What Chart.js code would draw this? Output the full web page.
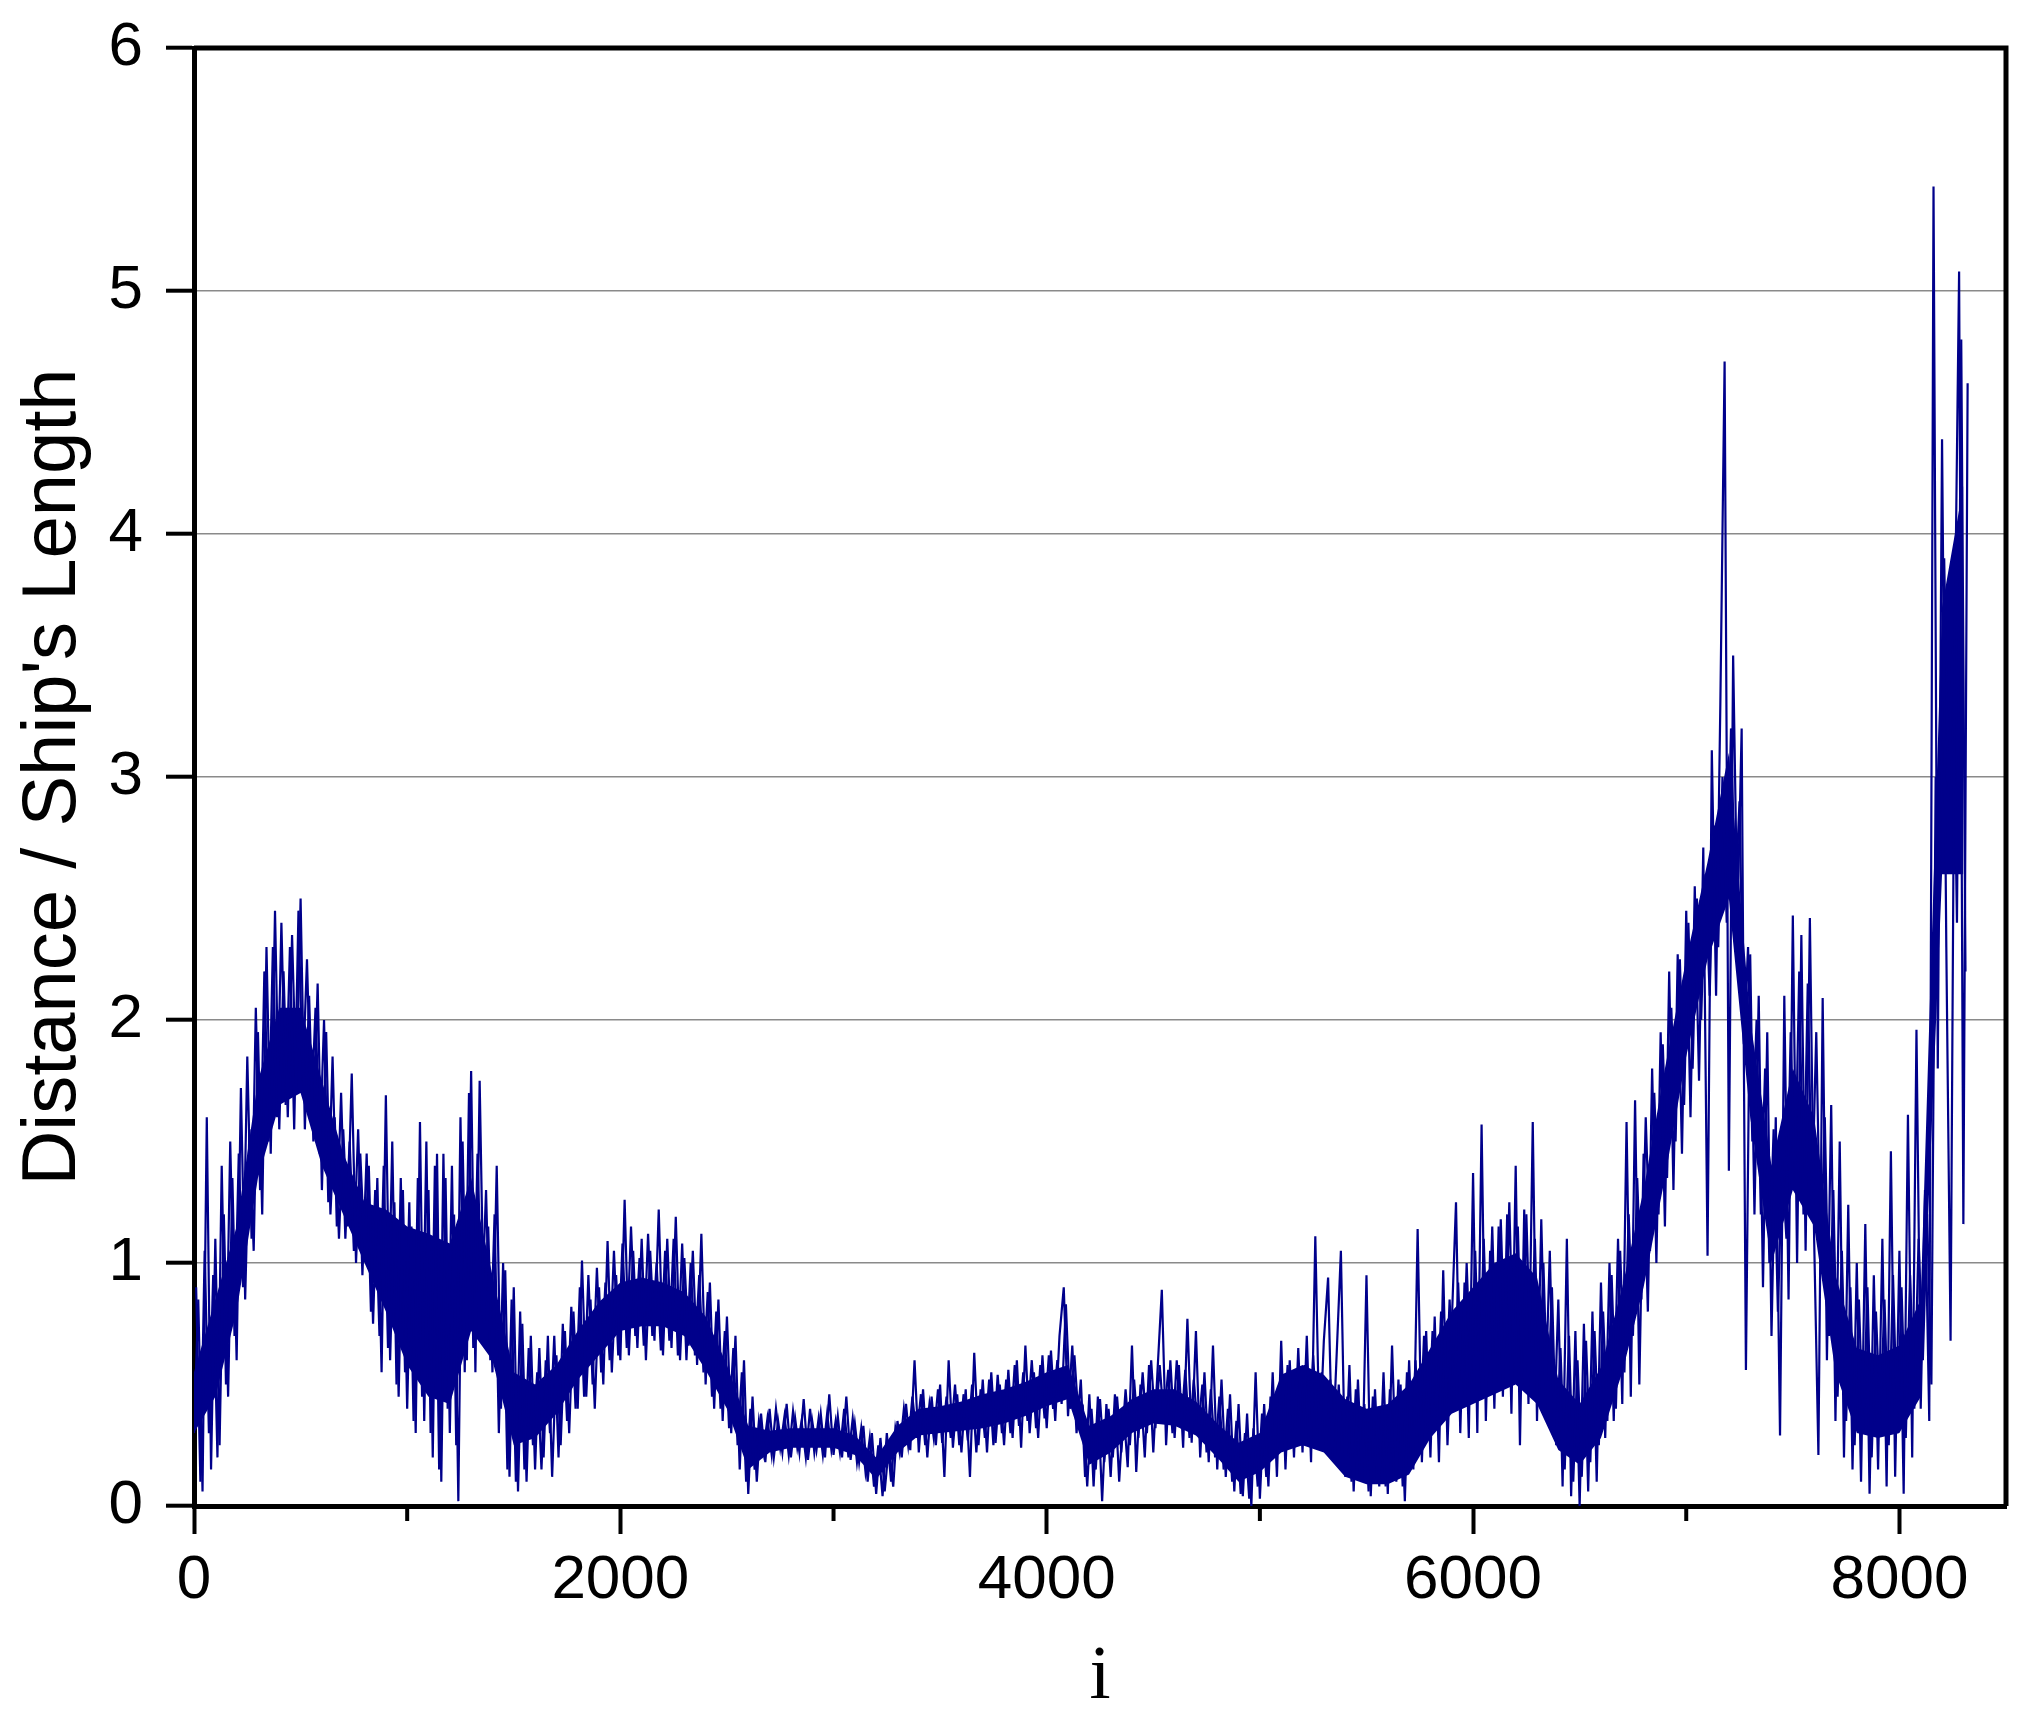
<!DOCTYPE html>
<html>
<head>
<meta charset="utf-8">
<script src="https://cdn.jsdelivr.net/npm/chart.js@4.4.1/dist/chart.umd.min.js"></script>
<style>
  html, body { margin: 0; padding: 0; background: #fff; }
</style>
</head>
<body>
<canvas id="myChart" width="2024" height="1727"></canvas>
<script>
// samples at i = 0, 20, 40, ...
var sampleStep = 20;
var distance = [
  0.30, 0.85, 0.06, 1.60, 0.15, 1.10, 0.25, 1.20, 0.45, 1.35,
  0.60, 1.72, 0.85, 1.55, 1.05, 1.95, 1.20, 2.30, 1.45, 2.45,
  1.55, 2.20, 1.60, 2.35, 1.70, 2.50, 1.55, 2.10, 1.50, 2.15,
  1.30, 1.95, 1.20, 1.60, 1.10, 1.55, 1.15, 1.78, 1.00, 1.45,
  1.05, 1.40, 0.75, 1.35, 0.55, 1.69, 0.60, 1.25, 0.45, 1.30,
  0.40, 1.15, 0.30, 1.58, 0.35, 1.30, 0.20, 1.45, 0.10, 1.35,
  0.30, 1.20, 0.02, 1.50, 0.60, 1.79, 0.55, 1.75, 0.75, 1.15,
  0.55, 1.40, 0.40, 0.97, 0.12, 0.90, 0.06, 0.75, 0.10, 0.70,
  0.15, 0.65, 0.20, 0.70, 0.12, 0.62, 0.25, 0.72, 0.30, 0.80,
  0.40, 1.01, 0.45, 0.85, 0.40, 0.90, 0.50, 1.09, 0.55, 0.95,
  0.60, 1.26, 0.62, 1.05, 0.65, 1.10, 0.60, 1.05, 0.68, 1.22,
  0.62, 1.10, 0.65, 1.19, 0.60, 1.02, 0.66, 1.05, 0.58, 1.12,
  0.50, 0.92, 0.40, 0.85, 0.35, 0.78, 0.30, 0.70, 0.15, 0.60,
  0.05, 0.45, 0.10, 0.38, 0.18, 0.40, 0.20, 0.35, 0.22, 0.42,
  0.20, 0.36, 0.22, 0.44, 0.19, 0.35, 0.23, 0.38, 0.20, 0.46,
  0.21, 0.37, 0.20, 0.45, 0.19, 0.34, 0.18, 0.33, 0.10, 0.30,
  0.05, 0.28, 0.06, 0.25, 0.08, 0.35, 0.20, 0.42, 0.23, 0.60,
  0.22, 0.48, 0.20, 0.45, 0.25, 0.50, 0.12, 0.60, 0.24, 0.46,
  0.22, 0.48, 0.12, 0.63, 0.25, 0.52, 0.22, 0.55, 0.26, 0.50,
  0.25, 0.56, 0.28, 0.60, 0.24, 0.66, 0.30, 0.55, 0.28, 0.62,
  0.32, 0.64, 0.35, 0.70, 0.90, 0.37, 0.66, 0.30, 0.52, 0.12,
  0.46, 0.08, 0.45, 0.02, 0.42, 0.12, 0.46, 0.10, 0.40, 0.16,
  0.66, 0.14, 0.50, 0.20, 0.58, 0.22, 0.56, 0.89, 0.25, 0.60,
  0.28, 0.58, 0.24, 0.77, 0.26, 0.72, 0.20, 0.55, 0.18, 0.66,
  0.15, 0.52, 0.12, 0.46, 0.06, 0.42, 0.04, 0.38, 0.00, 0.55,
  0.03, 0.42, 0.08, 0.55, 0.12, 0.68, 0.15, 0.60, 0.20, 0.65,
  0.22, 0.70, 0.18, 1.11, 0.25, 0.68, 0.94, 0.20, 0.62, 1.05,
  0.12, 0.58, 0.06, 0.52, 0.10, 0.95, 0.04, 0.48, 0.08, 0.55,
  0.05, 0.66, 0.10, 0.50, 0.02, 0.60, 0.15, 1.14, 0.18, 0.72,
  0.20, 0.78, 0.18, 0.97, 0.25, 0.75, 1.25, 0.30, 0.92, 0.28,
  1.37, 0.30, 1.57, 0.35, 1.05, 0.40, 1.15, 0.45, 1.20, 0.38,
  1.40, 0.25, 1.22, 0.42, 1.58, 0.35, 1.18, 0.45, 1.05, 0.30,
  0.85, 0.08, 1.10, 0.04, 0.72, 0.00, 0.75, 0.06, 0.80, 0.10,
  0.92, 0.28, 1.00, 0.35, 1.10, 0.42, 1.58, 0.45, 1.67, 0.50,
  1.45, 0.80, 1.80, 1.00, 1.95, 1.15, 2.20, 1.30, 2.27, 1.45,
  2.45, 1.60, 2.55, 1.75, 2.71, 1.03, 3.11, 2.10, 3.30, 4.71,
  1.38, 3.50, 2.40, 3.20, 0.56, 2.27, 1.20, 2.10, 0.90, 1.95,
  0.70, 1.60, 0.29, 2.10, 0.85, 2.43, 1.00, 2.35, 1.05, 2.42,
  1.10, 0.21, 2.09, 0.60, 1.65, 0.35, 1.50, 0.20, 1.24, 0.15,
  1.00, 0.10, 1.16, 0.05, 0.95, 0.15, 1.10, 0.08, 1.46, 0.12,
  1.05, 0.05, 1.61, 0.20, 1.96, 0.40, 1.30, 0.35, 5.43, 1.80,
  4.39, 2.30, 0.68, 3.60, 5.08, 1.16, 4.62
];

// samples at i = 10, 30, 50, ... (the in-between noise)
var distanceMid = [
  0.90, 0.10, 1.05, 0.30, 0.95, 0.20, 1.40, 0.50, 1.50, 0.70,
  1.45, 0.90, 1.85, 1.10, 2.05, 1.30, 2.20, 1.50, 2.30, 1.60,
  2.40, 1.65, 2.30, 1.55, 2.45, 1.75, 2.25, 1.60, 2.05, 1.45,
  2.00, 1.25, 1.85, 1.15, 1.70, 1.10, 1.50, 1.05, 1.55, 0.95,
  1.45, 0.80, 1.30, 0.70, 1.40, 0.65, 1.50, 0.50, 1.35, 0.55,
  1.25, 0.35, 1.35, 0.45, 1.50, 0.30, 1.40, 0.15, 1.45, 0.40,
  1.40, 0.25, 1.60, 0.55, 1.70, 0.65, 1.45, 0.80, 1.30, 0.60,
  1.20, 0.30, 1.00, 0.15, 0.85, 0.10, 0.80, 0.15, 0.65, 0.25,
  0.55, 0.15, 0.60, 0.30, 0.70, 0.20, 0.75, 0.35, 0.82, 0.40,
  0.90, 0.45, 0.95, 0.50, 0.98, 0.55, 0.92, 0.60, 1.05, 0.62,
  1.08, 0.65, 1.15, 0.70, 1.02, 0.66, 1.12, 0.70, 1.00, 0.64,
  1.05, 0.68, 1.10, 0.62, 1.08, 0.60, 1.00, 0.62, 0.95, 0.55,
  0.88, 0.45, 0.80, 0.40, 0.72, 0.32, 0.65, 0.25, 0.55, 0.10,
  0.40, 0.15, 0.35, 0.22, 0.36, 0.21, 0.40, 0.24, 0.37, 0.21,
  0.39, 0.24, 0.35, 0.20, 0.40, 0.22, 0.36, 0.21, 0.38, 0.23,
  0.35, 0.22, 0.40, 0.20, 0.36, 0.18, 0.32, 0.14, 0.28, 0.08,
  0.25, 0.04, 0.30, 0.10, 0.32, 0.22, 0.40, 0.25, 0.45, 0.28,
  0.46, 0.25, 0.42, 0.28, 0.48, 0.26, 0.45, 0.28, 0.50, 0.25,
  0.46, 0.27, 0.50, 0.22, 0.48, 0.28, 0.52, 0.25, 0.54, 0.30,
  0.52, 0.30, 0.58, 0.33, 0.55, 0.35, 0.60, 0.32, 0.58, 0.36,
  0.62, 0.40, 0.60, 0.42, 0.83, 0.40, 0.62, 0.35, 0.40, 0.08,
  0.40, 0.15, 0.44, 0.18, 0.40, 0.20, 0.45, 0.22, 0.48, 0.25,
  0.52, 0.28, 0.55, 0.30, 0.60, 0.32, 0.58, 0.35, 0.56, 0.30,
  0.60, 0.32, 0.56, 0.28, 0.52, 0.30, 0.50, 0.22, 0.48, 0.20,
  0.45, 0.15, 0.40, 0.10, 0.35, 0.05, 0.30, 0.03, 0.32, 0.08,
  0.38, 0.12, 0.45, 0.20, 0.50, 0.25, 0.58, 0.28, 0.55, 0.30,
  0.58, 0.25, 0.62, 0.30, 0.55, 0.22, 0.52, 0.18, 0.50, 0.15,
  0.45, 0.10, 0.48, 0.12, 0.42, 0.06, 0.45, 0.10, 0.40, 0.08,
  0.48, 0.12, 0.52, 0.08, 0.55, 0.20, 0.60, 0.25, 0.70, 0.30,
  0.72, 0.35, 0.80, 0.38, 0.85, 0.42, 0.92, 0.45, 1.00, 0.50,
  1.05, 0.48, 1.10, 0.55, 1.15, 0.50, 1.18, 0.60, 1.25, 0.55,
  1.15, 0.50, 1.20, 0.58, 1.10, 0.45, 1.00, 0.40, 0.90, 0.25,
  0.65, 0.15, 0.70, 0.10, 0.60, 0.12, 0.68, 0.18, 0.72, 0.25,
  0.80, 0.35, 0.95, 0.40, 1.05, 0.55, 1.20, 0.70, 1.35, 0.85,
  1.60, 1.05, 1.70, 1.20, 1.90, 1.35, 2.05, 1.50, 2.25, 1.65,
  2.40, 1.80, 2.50, 2.00, 2.60, 2.10, 2.80, 2.30, 3.00, 2.40,
  3.20, 2.50, 2.90, 1.90, 2.30, 1.50, 2.00, 1.20, 1.80, 1.00,
  1.55, 0.80, 1.40, 1.10, 1.95, 1.30, 2.20, 1.20, 2.15, 1.25,
  1.95, 1.00, 1.60, 0.70, 1.30, 0.45, 1.05, 0.35, 0.90, 0.25,
  0.85, 0.30, 0.90, 0.20, 0.80, 0.35, 0.85, 0.25, 0.95, 0.30,
  0.90, 0.28, 0.95, 0.40, 1.10, 0.60, 1.20, 0.50, 3.00, 2.60,
  3.90, 2.90, 3.57, 2.40, 4.80, 2.20
];

// the solid dark core of the trace, every 100 samples
var bandStep = 100;
var bandLow = [
  0.30, 0.45, 0.80, 1.35, 1.65, 1.70, 1.40, 1.20, 1.00, 0.80,
  0.58, 0.45, 0.42, 0.72, 0.60, 0.25, 0.28, 0.38, 0.52, 0.62,
  0.72, 0.74, 0.74, 0.70, 0.56, 0.40, 0.15, 0.22, 0.24, 0.24,
  0.24, 0.21, 0.11, 0.22, 0.29, 0.30, 0.31, 0.32, 0.34, 0.37,
  0.41, 0.44, 0.17, 0.22, 0.30, 0.34, 0.33, 0.29, 0.20, 0.10,
  0.14, 0.22, 0.25, 0.22, 0.12, 0.09, 0.09, 0.13, 0.28, 0.38,
  0.42, 0.46, 0.50, 0.42, 0.23, 0.17, 0.28, 0.55, 0.90, 1.35,
  1.85, 2.25, 2.50, 1.60, 1.00, 1.30, 1.15, 0.55, 0.30, 0.28,
  0.30, 0.45, 2.60, 2.60
];
var bandHigh = [
  0.55, 0.85, 1.15, 1.75, 2.05, 2.05, 1.75, 1.45, 1.25, 1.22,
  1.15, 1.12, 1.08, 1.35, 0.95, 0.55, 0.50, 0.58, 0.72, 0.84,
  0.92, 0.94, 0.92, 0.88, 0.78, 0.58, 0.33, 0.31, 0.32, 0.32,
  0.32, 0.29, 0.20, 0.33, 0.40, 0.41, 0.43, 0.46, 0.48, 0.51,
  0.55, 0.58, 0.33, 0.37, 0.44, 0.48, 0.48, 0.43, 0.34, 0.26,
  0.30, 0.54, 0.58, 0.54, 0.44, 0.40, 0.42, 0.50, 0.65, 0.80,
  0.90, 1.00, 1.04, 0.94, 0.52, 0.42, 0.57, 0.90, 1.30, 1.80,
  2.25, 2.65, 3.10, 2.00, 1.40, 1.80, 1.60, 0.95, 0.65, 0.62,
  0.66, 0.85, 3.70, 4.20
];

var xTicks = [0, 2000, 4000, 6000, 8000];
var xMinorTicks = [1000, 3000, 5000, 7000];
var yTicks = [0, 1, 2, 3, 4, 5, 6];
var xLabel = "i";
var yLabel = "Distance / Ship's Length";
var lineColor = "#00008b";

var points = [];
for (var k = 0; k < distance.length; k++) {
    points.push({x: k * sampleStep, y: distance[k]});
}
var midPoints = [];
for (var m = 0; m < distanceMid.length; m++) {
    midPoints.push({x: m * sampleStep + sampleStep / 2, y: distanceMid[m]});
}
var lowPts = [];
var highPts = [];
for (var b = 0; b < bandLow.length; b++) {
    lowPts.push({x: b * bandStep, y: bandLow[b]});
    highPts.push({x: b * bandStep, y: bandHigh[b]});
}

// top and right side of the box, plus the short minor ticks on the x axis
var framePlugin = {
    id: 'frame',
    afterDraw: function(chart) {
        var a = chart.chartArea;
        var ctx = chart.ctx;
        var xs = chart.scales.x;
        ctx.save();
        ctx.strokeStyle = '#000';
        ctx.lineWidth = 5;
        ctx.beginPath();
        ctx.moveTo(a.left, a.top);
        ctx.lineTo(a.right, a.top);
        ctx.lineTo(a.right, a.bottom);
        ctx.stroke();
        ctx.lineWidth = 4;
        xMinorTicks.forEach(function(v) {
            var px = xs.getPixelForValue(v);
            ctx.beginPath();
            ctx.moveTo(px, a.bottom);
            ctx.lineTo(px, a.bottom + 15);
            ctx.stroke();
        });
        ctx.restore();
    }
};

function traceLine(data) {
    return {
        data: data,
        borderColor: lineColor,
        borderWidth: 2.2,
        borderJoinStyle: 'miter',
        fill: false,
        pointRadius: 0,
        tension: 0
    };
}

var ctx = document.getElementById("myChart").getContext('2d');
var myLineChart = new Chart(ctx, {
    type: 'line',
    data: {
        datasets: [traceLine(points), traceLine(midPoints), {
            data: highPts,
            borderWidth: 0,
            borderColor: lineColor,
            backgroundColor: lineColor,
            fill: '+1',
            pointRadius: 0,
            tension: 0
        }, {
            data: lowPts,
            borderWidth: 0,
            borderColor: lineColor,
            fill: false,
            pointRadius: 0,
            tension: 0
        }]
    },
    options: {
        responsive: false,
        animation: false,
        devicePixelRatio: 1,
        layout: { padding: { top: 48, right: 18, left: 0, bottom: 0 } },
        plugins: {
            legend: { display: false },
            tooltip: { enabled: false }
        },
        scales: {
            x: {
                type: 'linear',
                min: 0,
                max: 8500,
                afterBuildTicks: function(scale) {
                    scale.ticks = xTicks.map(function(v) { return {value: v}; });
                },
                afterFit: function(scale) { scale.height = 1727 - 1506; },
                grid: {
                    drawOnChartArea: false,
                    drawTicks: true,
                    tickLength: 28,
                    tickWidth: 4,
                    tickColor: '#000'
                },
                border: { display: true, color: '#000', width: 5 },
                ticks: {
                    color: '#000',
                    padding: 10,
                    maxRotation: 0,
                    callback: function(v) { return String(v); },
                    font: { family: 'Liberation Sans, Arial, sans-serif', size: 62 }
                },
                title: {
                    display: true,
                    text: xLabel,
                    color: '#000',
                    padding: { top: 0, bottom: 3 },
                    font: { family: 'Liberation Serif, Times New Roman, serif', size: 76 }
                }
            },
            y: {
                min: 0,
                max: 6,
                afterBuildTicks: function(scale) {
                    scale.ticks = yTicks.map(function(v) { return {value: v}; });
                },
                afterFit: function(scale) {
                    scale.width = 194;
                    scale.paddingTop = 0;
                    scale.paddingBottom = 0;
                },
                grid: {
                    color: function(c) {
                        var v = c.tick ? c.tick.value : null;
                        return (v === 0 || v === 6) ? 'rgba(0,0,0,0)' : '#8a8a8a';
                    },
                    lineWidth: 1.4,
                    drawTicks: true,
                    tickLength: 28,
                    tickWidth: 4,
                    tickColor: '#000'
                },
                border: { display: true, color: '#000', width: 5 },
                ticks: {
                    color: '#000',
                    padding: 23,
                    callback: function(v) { return String(v); },
                    font: { family: 'Liberation Sans, Arial, sans-serif', size: 62 }
                },
                title: {
                    display: true,
                    text: yLabel,
                    color: '#000',
                    padding: { top: 8, bottom: 0 },
                    font: { family: 'Liberation Sans, Arial, sans-serif', size: 76 }
                }
            }
        }
    },
    plugins: [framePlugin]
});
</script>
</body>
</html>
